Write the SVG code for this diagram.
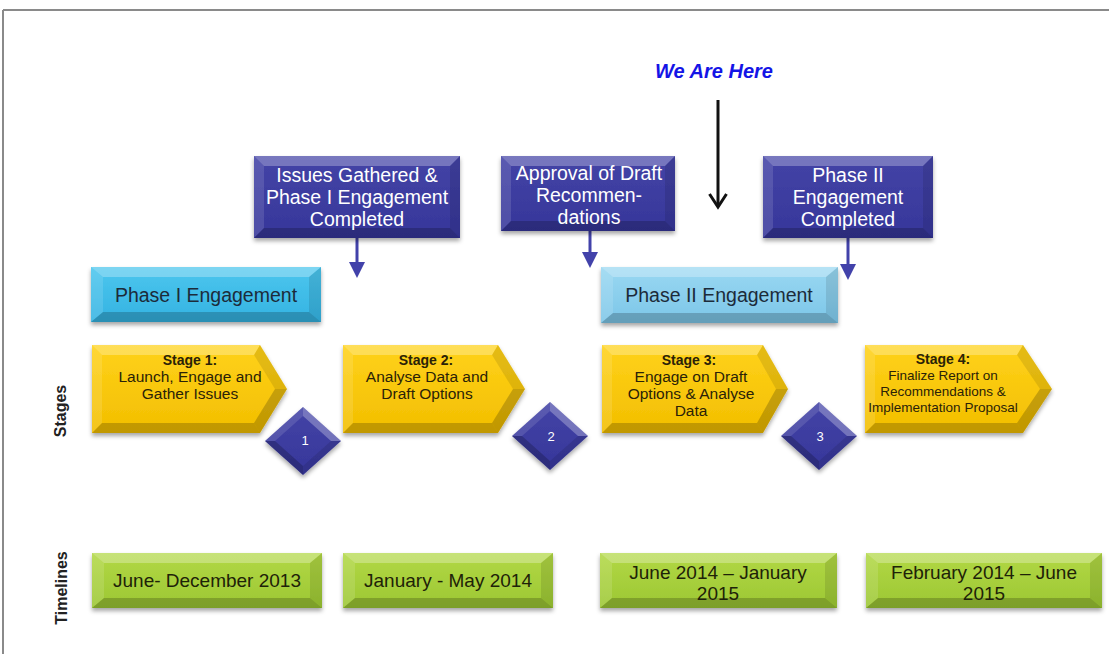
<svg xmlns="http://www.w3.org/2000/svg" width="1109" height="654" viewBox="0 0 1109 654">
  <defs>
    <filter id="shadow" x="-10%" y="-10%" width="120%" height="130%">
      <feDropShadow dx="0" dy="3" stdDeviation="2.2" flood-color="#000" flood-opacity="0.35"/>
    </filter>
    <linearGradient id="gYellow" x1="0" y1="0" x2="0" y2="1">
      <stop offset="0" stop-color="#FFD21A"/>
      <stop offset="1" stop-color="#F2BE00"/>
    </linearGradient>
    <linearGradient id="gGreen" x1="0" y1="0" x2="0" y2="1">
      <stop offset="0" stop-color="#B2D845"/>
      <stop offset="1" stop-color="#9CC733"/>
    </linearGradient>
    <linearGradient id="gPhase1" x1="0" y1="0" x2="0" y2="1">
      <stop offset="0" stop-color="#4CC6EE"/>
      <stop offset="1" stop-color="#34B3E2"/>
    </linearGradient>
    <linearGradient id="gPhase2" x1="0" y1="0" x2="0" y2="1">
      <stop offset="0" stop-color="#9AD8F2"/>
      <stop offset="1" stop-color="#7CC6E8"/>
    </linearGradient>
    <linearGradient id="gNavy" x1="0" y1="0" x2="0" y2="1">
      <stop offset="0" stop-color="#4444A6"/>
      <stop offset="1" stop-color="#36369A"/>
    </linearGradient>
  </defs>
  <style>
    .font { font-family: "Liberation Sans", Arial, sans-serif; }
    .hi { fill: #ffffff; fill-opacity: 0.28; }
    .hi2 { fill: #ffffff; fill-opacity: 0.12; }
    .lo { fill: #000000; fill-opacity: 0.10; }
    .lo2 { fill: #000000; fill-opacity: 0.20; }
    .milestone-text { font-family: "Liberation Sans", Arial, sans-serif; font-size: 19.5px; fill: #ffffff; text-anchor: middle; }
    .phase-text { font-family: "Liberation Sans", Arial, sans-serif; font-size: 19.5px; fill: #1C2B3A; text-anchor: middle; }
    .stage-title { font-family: "Liberation Sans", Arial, sans-serif; font-size: 14px; font-weight: bold; fill: #2A2208; text-anchor: middle; }
    .stage-text { font-family: "Liberation Sans", Arial, sans-serif; font-size: 15.5px; fill: #2A2208; text-anchor: middle; }
    .stage-small { font-family: "Liberation Sans", Arial, sans-serif; font-size: 13.5px; fill: #2A2208; text-anchor: middle; }
    .time-text { font-family: "Liberation Sans", Arial, sans-serif; font-size: 19px; fill: #1E2208; text-anchor: middle; }
    .num { font-family: "Liberation Sans", Arial, sans-serif; font-size: 13px; fill: #ffffff; text-anchor: middle; }
    .side { font-family: "Liberation Sans", Arial, sans-serif; font-size: 16px; font-weight: bold; fill: #222222; text-anchor: middle; }
    .link { stroke: #4242AA; stroke-width: 3; fill: none; }
    .head { fill: #4242AA; }
  </style>

  <!-- frame -->
  <rect x="0" y="0" width="1109" height="654" fill="#ffffff"/>
  <line x1="3" y1="10" x2="1109" y2="10" stroke="#8a8a8a" stroke-width="2"/>
  <line x1="3" y1="10" x2="3" y2="654" stroke="#8a8a8a" stroke-width="2"/>

  <!-- "We Are Here" marker -->
  <g id="we-are-here">
    <text x="714" y="78" class="font" font-size="20" font-weight="bold" font-style="italic" fill="#1414E6" text-anchor="middle">We Are Here</text>
  </g>

  <!-- connectors -->
  <g id="connectors">
    <line x1="718" y1="100" x2="718" y2="206" stroke="#111" stroke-width="3"/>
    <polyline points="709.5,194 718,207 726.5,194" fill="none" stroke="#111" stroke-width="3" stroke-linejoin="miter"/>

    <line class="link" x1="357" y1="238" x2="357" y2="263"/>
    <polygon class="head" points="349,262 365,262 357,278"/>
    <line class="link" x1="590" y1="231" x2="590" y2="253"/>
    <polygon class="head" points="582,252 598,252 590,268"/>
    <line class="link" x1="848" y1="238" x2="848" y2="265"/>
    <polygon class="head" points="840,264 856,264 848,280"/>
  </g>

  <!-- milestones -->
  <g id="milestone-1">
    <rect x="254" y="156" width="206" height="82" fill="url(#gNavy)" filter="url(#shadow)"/>
    <polygon class="hi" points="254,156 460,156 450,166 264,166"/>
    <polygon class="hi2" points="254,156 264,166 264,228 254,238"/>
    <polygon class="lo" points="460,156 460,238 450,228 450,166"/>
    <polygon class="lo2" points="254,238 264,228 450,228 460,238"/>
    <text class="milestone-text" x="357" y="182">Issues Gathered &amp;</text>
    <text class="milestone-text" x="357" y="204">Phase I Engagement</text>
    <text class="milestone-text" x="357" y="226">Completed</text>
  </g>
  <g id="milestone-2">
    <rect x="501" y="156" width="174" height="75" fill="url(#gNavy)" filter="url(#shadow)"/>
    <polygon class="hi" points="501,156 675,156 665,166 511,166"/>
    <polygon class="hi2" points="501,156 511,166 511,221 501,231"/>
    <polygon class="lo" points="675,156 675,231 665,221 665,166"/>
    <polygon class="lo2" points="501,231 511,221 665,221 675,231"/>
    <text class="milestone-text" x="589" y="180">Approval of Draft</text>
    <text class="milestone-text" x="589" y="202">Recommen-</text>
    <text class="milestone-text" x="589" y="224">dations</text>
  </g>
  <g id="milestone-3">
    <rect x="763" y="156" width="170" height="82" fill="url(#gNavy)" filter="url(#shadow)"/>
    <polygon class="hi" points="763,156 933,156 923,166 773,166"/>
    <polygon class="hi2" points="763,156 773,166 773,228 763,238"/>
    <polygon class="lo" points="933,156 933,238 923,228 923,166"/>
    <polygon class="lo2" points="763,238 773,228 923,228 933,238"/>
    <text class="milestone-text" x="848" y="182">Phase II</text>
    <text class="milestone-text" x="848" y="204">Engagement</text>
    <text class="milestone-text" x="848" y="226">Completed</text>
  </g>

  <!-- phases -->
  <g id="phase-1">
    <rect x="91" y="267" width="230" height="55" fill="url(#gPhase1)" filter="url(#shadow)"/>
    <polygon class="hi" points="91,267 321,267 309,277 103,277"/>
    <polygon class="hi2" points="91,267 103,277 103,312 91,322"/>
    <polygon class="lo" points="321,267 321,322 309,312 309,277"/>
    <polygon class="lo2" points="91,322 103,312 309,312 321,322"/>
    <text class="phase-text" x="206" y="302">Phase I Engagement</text>
  </g>
  <g id="phase-2">
    <rect x="601" y="267" width="237" height="56" fill="url(#gPhase2)" filter="url(#shadow)"/>
    <polygon class="hi" points="601,267 838,267 826,277 613,277"/>
    <polygon class="hi2" points="601,267 613,277 613,313 601,323"/>
    <polygon class="lo" points="838,267 838,323 826,313 826,277"/>
    <polygon class="lo2" points="601,323 613,313 826,313 838,323"/>
    <text class="phase-text" x="719" y="302">Phase II Engagement</text>
  </g>

  <!-- side labels -->
  <text class="side" transform="translate(66,411) rotate(-90)">Stages</text>
  <text class="side" transform="translate(67,588) rotate(-90)">Timelines</text>

  <!-- stages -->
  <g id="stage-1">
    <polygon points="92,345 260,345 287,389 260,433 92,433" fill="url(#gYellow)" filter="url(#shadow)"/>
    <polygon class="hi" points="92,345 260,345 254,355 102,355"/>
    <polygon class="hi2" points="92,345 102,355 102,423 92,433"/>
    <polygon class="lo" points="260,345 287,389 275,389 254,355"/>
    <polygon class="lo2" points="287,389 260,433 254,423 275,389"/>
    <polygon class="lo2" points="92,433 102,423 254,423 260,433"/>
    <text class="stage-title" x="190" y="365">Stage 1:</text>
    <text class="stage-text" x="190" y="382">Launch, Engage and</text>
    <text class="stage-text" x="190" y="399">Gather Issues</text>
  </g>
  <g id="stage-2">
    <polygon points="343,345 498,345 525,389 498,433 343,433" fill="url(#gYellow)" filter="url(#shadow)"/>
    <polygon class="hi" points="343,345 498,345 492,355 353,355"/>
    <polygon class="hi2" points="343,345 353,355 353,423 343,433"/>
    <polygon class="lo" points="498,345 525,389 513,389 492,355"/>
    <polygon class="lo2" points="525,389 498,433 492,423 513,389"/>
    <polygon class="lo2" points="343,433 353,423 492,423 498,433"/>
    <text class="stage-title" x="426" y="365">Stage 2:</text>
    <text class="stage-text" x="427" y="382">Analyse Data and</text>
    <text class="stage-text" x="427" y="399">Draft Options</text>
  </g>
  <g id="stage-3">
    <polygon points="602,345 763,345 788,389 763,433 602,433" fill="url(#gYellow)" filter="url(#shadow)"/>
    <polygon class="hi" points="602,345 763,345 757,355 612,355"/>
    <polygon class="hi2" points="602,345 612,355 612,423 602,433"/>
    <polygon class="lo" points="763,345 788,389 776,389 757,355"/>
    <polygon class="lo2" points="788,389 763,433 757,423 776,389"/>
    <polygon class="lo2" points="602,433 612,423 757,423 763,433"/>
    <text class="stage-title" x="689" y="365">Stage 3:</text>
    <text class="stage-text" x="691" y="382">Engage on Draft</text>
    <text class="stage-text" x="691" y="399">Options &amp; Analyse</text>
    <text class="stage-text" x="691" y="416">Data</text>
  </g>
  <g id="stage-4">
    <polygon points="865,345 1023,345 1052,389 1023,433 865,433" fill="url(#gYellow)" filter="url(#shadow)"/>
    <polygon class="hi" points="865,345 1023,345 1017,355 875,355"/>
    <polygon class="hi2" points="865,345 875,355 875,423 865,433"/>
    <polygon class="lo" points="1023,345 1052,389 1040,389 1017,355"/>
    <polygon class="lo2" points="1052,389 1023,433 1017,423 1040,389"/>
    <polygon class="lo2" points="865,433 875,423 1017,423 1023,433"/>
    <text class="stage-title" x="943" y="364">Stage 4:</text>
    <text class="stage-small" x="943" y="380">Finalize Report on</text>
    <text class="stage-small" x="943" y="396">Recommendations &amp;</text>
    <text class="stage-small" x="943" y="412">Implementation Proposal</text>
  </g>

  <!-- gates between stages -->
  <g id="gate-1">
    <polygon points="303,407 341,441 303,475 265,441" fill="url(#gNavy)" filter="url(#shadow)"/>
    <polygon class="hi" points="303,407 341,441 331,441 303,416"/>
    <polygon class="hi2" points="303,407 303,416 275,441 265,441"/>
    <polygon class="lo2" points="265,441 275,441 303,466 303,475"/>
    <polygon class="lo" points="341,441 303,475 303,466 331,441"/>
    <text class="num" x="305" y="445">1</text>
  </g>
  <g id="gate-2">
    <polygon points="550,402 588,436 550,470 512,436" fill="url(#gNavy)" filter="url(#shadow)"/>
    <polygon class="hi" points="550,402 588,436 578,436 550,411"/>
    <polygon class="hi2" points="550,402 550,411 522,436 512,436"/>
    <polygon class="lo2" points="512,436 522,436 550,461 550,470"/>
    <polygon class="lo" points="588,436 550,470 550,461 578,436"/>
    <text class="num" x="551" y="441">2</text>
  </g>
  <g id="gate-3">
    <polygon points="819,402 857,436 819,470 781,436" fill="url(#gNavy)" filter="url(#shadow)"/>
    <polygon class="hi" points="819,402 857,436 847,436 819,411"/>
    <polygon class="hi2" points="819,402 819,411 791,436 781,436"/>
    <polygon class="lo2" points="781,436 791,436 819,461 819,470"/>
    <polygon class="lo" points="857,436 819,470 819,461 847,436"/>
    <text class="num" x="820" y="441">3</text>
  </g>

  <!-- timelines -->
  <g id="timeline-1">
    <rect x="92" y="553" width="230" height="55" fill="url(#gGreen)" filter="url(#shadow)"/>
    <polygon class="hi" points="92,553 322,553 310,563 104,563"/>
    <polygon class="hi2" points="92,553 104,563 104,598 92,608"/>
    <polygon class="lo" points="322,553 322,608 310,598 310,563"/>
    <polygon class="lo2" points="92,608 104,598 310,598 322,608"/>
    <text class="time-text" x="207" y="587">June- December 2013</text>
  </g>
  <g id="timeline-2">
    <rect x="343" y="553" width="210" height="55" fill="url(#gGreen)" filter="url(#shadow)"/>
    <polygon class="hi" points="343,553 553,553 541,563 355,563"/>
    <polygon class="hi2" points="343,553 355,563 355,598 343,608"/>
    <polygon class="lo" points="553,553 553,608 541,598 541,563"/>
    <polygon class="lo2" points="343,608 355,598 541,598 553,608"/>
    <text class="time-text" x="448" y="587" font-size="18">January - May 2014</text>
  </g>
  <g id="timeline-3">
    <rect x="600" y="553" width="237" height="55" fill="url(#gGreen)" filter="url(#shadow)"/>
    <polygon class="hi" points="600,553 837,553 825,563 612,563"/>
    <polygon class="hi2" points="600,553 612,563 612,598 600,608"/>
    <polygon class="lo" points="837,553 837,608 825,598 825,563"/>
    <polygon class="lo2" points="600,608 612,598 825,598 837,608"/>
    <text class="time-text" x="718" y="579">June 2014 – January</text>
    <text class="time-text" x="718" y="600">2015</text>
  </g>
  <g id="timeline-4">
    <rect x="866" y="553" width="236" height="55" fill="url(#gGreen)" filter="url(#shadow)"/>
    <polygon class="hi" points="866,553 1102,553 1090,563 878,563"/>
    <polygon class="hi2" points="866,553 878,563 878,598 866,608"/>
    <polygon class="lo" points="1102,553 1102,608 1090,598 1090,563"/>
    <polygon class="lo2" points="866,608 878,598 1090,598 1102,608"/>
    <text class="time-text" x="984" y="579">February 2014 – June</text>
    <text class="time-text" x="984" y="600">2015</text>
  </g>
</svg>
